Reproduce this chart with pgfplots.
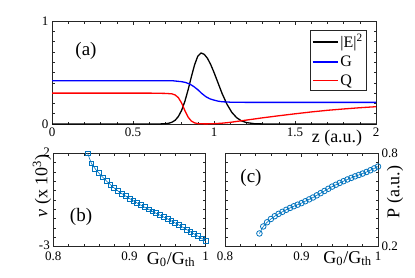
\documentclass[border=0pt]{standalone}
\usepackage{fontspec}
\setmainfont{Liberation Serif}
\usepackage{pgfplots}
\usepackage{pgfplotstable}
\pgfplotsset{compat=1.18}
\definecolor{mblue}{RGB}{0,114,189}
\newcommand{\tk}{\fontsize{13}{15}\selectfont}
\newcommand{\lb}{\fontsize{18}{20}\selectfont}
\pgfplotstableread{
x v
0.845 2.00
0.850 1.46
0.855 1.17
0.860 0.93
0.865 0.71
0.870 0.51
0.875 0.32
0.880 0.14
0.885 -0.02
0.890 -0.16
0.895 -0.29
0.900 -0.42
0.905 -0.54
0.910 -0.66
0.915 -0.78
0.920 -0.89
0.925 -1.00
0.930 -1.11
0.935 -1.21
0.940 -1.31
0.945 -1.41
0.950 -1.51
0.955 -1.62
0.960 -1.73
0.965 -1.84
0.970 -1.96
0.975 -2.08
0.980 -2.20
0.985 -2.32
0.990 -2.44
0.995 -2.56
1.000 -2.68
}\tabB
\pgfplotstableread{
x P
0.845 0.285
0.850 0.330
0.855 0.357
0.860 0.378
0.865 0.396
0.870 0.411
0.875 0.424
0.880 0.437
0.885 0.449
0.890 0.460
0.895 0.470
0.900 0.480
0.905 0.492
0.910 0.504
0.915 0.516
0.920 0.530
0.925 0.544
0.930 0.558
0.935 0.572
0.940 0.586
0.945 0.598
0.950 0.610
0.955 0.621
0.960 0.632
0.965 0.642
0.970 0.652
0.975 0.661
0.980 0.670
0.985 0.680
0.990 0.691
0.995 0.703
1.000 0.715
}\tabC
\pgfplotsset{
  myax/.style={scale only axis, anchor=south west,
    axis line style={line width=0.6pt, black!85},
    tick style={line width=0.5pt, black!85},
    major tick length=3.5pt, minor tick length=2.5pt,
    tick label style={font=\tk}, tick align=inside,
    xtick pos=both, ytick pos=both},
}
\begin{document}
\begin{tikzpicture}
\path[use as bounding box] (0pt,0pt) rectangle (415pt,277pt);
% (a)
\begin{axis}[myax, at={(52pt,153pt)}, width=324pt, height=103pt,
  xmin=0, xmax=2, ymin=0, ymax=1,
  xtick={0,0.5,1,1.5,2}, xticklabels={0,0.5,1,1.5,2},
  ytick={0,1}, yticklabels={0,1},
  minor x tick num=4, minor y tick num=9,
  xticklabel pos=left, yticklabel pos=left,
  legend style={at={(axis description cs:0.972,0.913)}, anchor=north east,
    font=\fontsize{16}{18}\selectfont, draw=black!85, line width=0.6pt,
    inner xsep=2pt, inner ysep=2pt, row sep=2.5pt},
  legend cell align=left,
  legend image code/.code={\draw[#1, line width=1.3pt] (0pt,0pt)--(25pt,0pt);}]
\addplot[black, line width=1.3pt, line join=round] coordinates {
(0,0)(0.6,0)(0.66,0.0003)(0.7,0.0027)(0.72,0.007)(0.74,0.017)(0.76,0.036)(0.78,0.073)(0.8,0.132)(0.82,0.219)(0.84,0.331)(0.86,0.457)(0.88,0.574)(0.9,0.659)(0.92,0.69)(0.94,0.676)(0.96,0.637)(0.98,0.576)(1.0,0.501)(1.02,0.419)(1.05,0.296)(1.08,0.192)(1.11,0.113)(1.14,0.061)(1.17,0.03)(1.2,0.0137)(1.25,0.003)(1.3,0.0007)(1.4,0)(2,0)};
\addlegendentry{|E|\textsuperscript{2}}
\addplot[blue, line width=1.3pt, line join=round] coordinates {
(0,0.42)(0.6,0.42)(0.7,0.42)(0.75,0.419)(0.8,0.411)(0.825,0.403)(0.85,0.388)(0.875,0.364)(0.9,0.333)(0.925,0.296)(0.95,0.265)(0.975,0.244)(1.0,0.232)(1.025,0.222)(1.05,0.216)(1.1,0.212)(1.2,0.21)(2,0.21)};
\addlegendentry{G}
\addplot[red, line width=1.3pt, line join=round] coordinates {
(0,0.3)(0.6,0.3)(0.7,0.297)(0.74,0.293)(0.76,0.282)(0.78,0.256)(0.8,0.204)(0.82,0.131)(0.84,0.067)(0.86,0.029)(0.88,0.011)(0.9,0.004)(0.92,0.002)(0.95,0.001)(1.0,0.003)(1.05,0.008)(1.1,0.016)(1.2,0.038)(1.3,0.06)(1.4,0.08)(1.5,0.099)(1.6,0.117)(1.7,0.133)(1.8,0.146)(1.9,0.158)(2.0,0.168)};
\addlegendentry{Q}
\end{axis}
% (b)
\begin{axis}[myax, at={(53.3pt,30.3pt)}, width=152.4pt, height=93.4pt,
  xmin=0.8, xmax=1, ymin=-3, ymax=2,
  xtick={0.8,0.9,1}, xticklabels={0.8,0.9,1},
  ytick={-3,2}, yticklabels={-3,2},
  minor x tick num=4, minor ytick={-2.5,-2,...,1.5},
  xticklabel pos=left, yticklabel pos=left,
  xticklabel style={yshift=-1.5pt}, yticklabel style={yshift=1pt}]
\addplot[mblue, line width=0.6pt, mark=square, mark size=2.4pt,
  mark options={line width=0.8pt, fill=mblue!25}] table[x=x,y=v] {\tabB};
\end{axis}
% (c)
\begin{axis}[myax, at={(225pt,30.3pt)}, width=153pt, height=93.4pt,
  xmin=0.8, xmax=1, ymin=0.2, ymax=0.8,
  xtick={0.8,0.9,1}, xticklabels={0.8,0.9,1},
  ytick={0.2,0.8}, yticklabels={0.2,0.8},
  minor x tick num=4, minor ytick={0.26,0.32,...,0.75},
  xticklabel pos=left, yticklabel pos=right,
  xticklabel style={yshift=-1.5pt}]
\addplot[mblue, line width=0.6pt, mark=o, mark size=2.8pt,
  mark options={line width=0.8pt}] table[x=x,y=P] {\tabC};
\end{axis}
% labels
\node[font=\lb, anchor=base] at (337pt,134.5pt) {z (a.u.)};
\node[font=\lb, anchor=base] at (171pt,13pt) {G\textsubscript{0}/G\textsubscript{th}};
\node[font=\lb, anchor=base] at (347.5pt,14pt) {G\textsubscript{0}/G\textsubscript{th}};
\node[font=\lb, rotate=90] at (42pt,91pt) {\textit{v} (x 10\textsuperscript{3})};
\node[font=\lb, rotate=90] at (395pt,85pt) {P (a.u.)};
\node[font=\fontsize{19}{21}\selectfont] at (86pt,226pt) {(a)};
\node[font=\fontsize{19}{21}\selectfont] at (81pt,60pt) {(b)};
\node[font=\fontsize{19}{21}\selectfont] at (251pt,99pt) {(c)};
\end{tikzpicture}
\end{document}
